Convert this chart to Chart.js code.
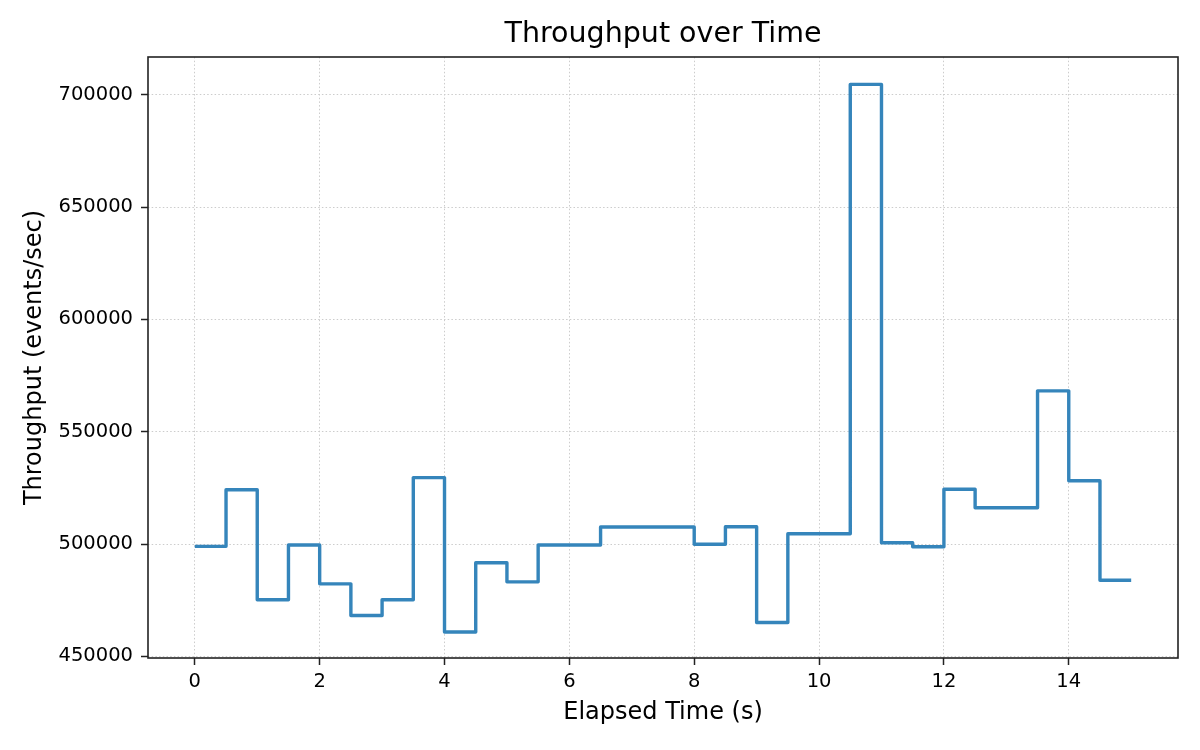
<!DOCTYPE html>
<html>
<head>
<meta charset="utf-8">
<title>Throughput over Time</title>
<script src="https://cdn.jsdelivr.net/npm/chart.js@4.4.1/dist/chart.umd.min.js"></script>
<style>
  html, body { margin: 0; padding: 0; background: #ffffff; }
  canvas { display: block; }
</style>
</head>
<body>
<canvas id="throughputChart" width="1200" height="750"></canvas>
<script>
const elapsedTimes = [0, 0.5, 1, 1.5, 2, 2.5, 3, 3.5, 4, 4.5, 5, 5.5, 6, 6.5, 7, 7.5,
                      8, 8.5, 9, 9.5, 10, 10.5, 11, 11.5, 12, 12.5, 13, 13.5, 14, 14.5, 15];
const throughput = [499000, 524200, 475200, 499600, 482300, 468200, 475200, 529600,
                    460900, 491700, 483200, 499600, 499600, 507600, 507600, 507600,
                    499900, 507700, 465100, 504600, 504600, 704600, 500600, 498800,
                    524400, 516200, 516200, 568200, 528200, 483900, 483900];
const xTickValues = [0, 2, 4, 6, 8, 10, 12, 14];
const yTickValues = [450000, 500000, 550000, 600000, 650000, 700000];

const fontFamily = '"DejaVu Sans", sans-serif';

// matplotlib-style box around the plot area
const frameBox = {
    id: 'frameBox',
    afterDraw: (chart) => {
        const { ctx, chartArea: a } = chart;
        ctx.save();
        ctx.strokeStyle = '#222222';
        ctx.lineWidth = 1.6;
        ctx.strokeRect(a.left, a.top, a.right - a.left, a.bottom - a.top);
        ctx.restore();
    }
};

const gridStyle = {
    color: '#cccccc',
    lineWidth: 1,
    tickColor: '#222222',
    tickWidth: 1.5,
    tickLength: 7,
    tickBorderDash: []
};
// in v4 the grid line dash lives under border.dash
const borderStyle = { display: false, dash: [1.5, 2.2] };

new Chart(document.getElementById('throughputChart').getContext('2d'), {
    type: 'line',
    data: {
        datasets: [{
            label: 'Throughput',
            data: elapsedTimes.map((t, i) => ({ x: t, y: throughput[i] })),
            stepped: 'before',
            borderColor: '#3585bb',
            borderWidth: 3.4,
            borderJoinStyle: 'round',
            pointRadius: 0,
            fill: false
        }]
    },
    options: {
        responsive: false,
        animation: false,
        devicePixelRatio: 1,
        layout: { padding: { left: 0, right: 22, top: 0, bottom: 0 } },
        plugins: {
            legend: { display: false },
            tooltip: { enabled: false },
            title: {
                display: true,
                text: 'Throughput over Time',
                fullSize: false,
                color: '#000000',
                font: { family: fontFamily, size: 28.5, weight: 'normal' },
                padding: { top: 17, bottom: 5.8 }
            }
        },
        scales: {
            x: {
                type: 'linear',
                min: -0.75,
                max: 15.75,
                afterBuildTicks: (scale) => { scale.ticks = xTickValues.map(v => ({ value: v })); },
                afterFit: (scale) => { scale.height = 92; },
                grid: gridStyle,
                border: borderStyle,
                ticks: {
                    color: '#000000',
                    padding: 5.5,
                    maxRotation: 0,
                    font: { family: fontFamily, size: 19.5 },
                    callback: (v) => String(v)
                },
                title: {
                    display: true,
                    text: 'Elapsed Time (s)',
                    color: '#000000',
                    font: { family: fontFamily, size: 24 },
                    padding: { top: 0, bottom: 22.6 }
                }
            },
            y: {
                type: 'linear',
                min: 449300,
                max: 716800,
                afterBuildTicks: (scale) => { scale.ticks = yTickValues.map(v => ({ value: v })); },
                afterFit: (scale) => { scale.width = 148; },
                grid: gridStyle,
                border: borderStyle,
                ticks: {
                    color: '#000000',
                    padding: 8,
                    font: { family: fontFamily, size: 19.5 },
                    callback: (v) => String(v)
                },
                title: {
                    display: true,
                    text: 'Throughput (events/sec)',
                    color: '#000000',
                    font: { family: fontFamily, size: 24 },
                    padding: { top: 20, bottom: 0 }
                }
            }
        }
    },
    plugins: [frameBox]
});
</script>
</body>
</html>
